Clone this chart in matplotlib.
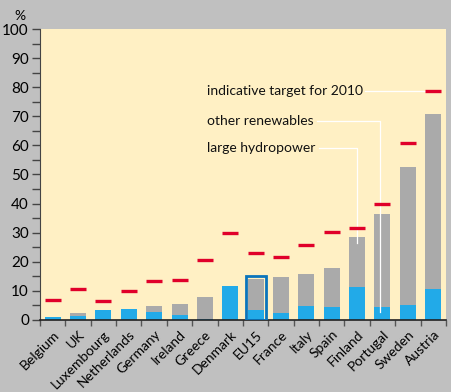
import numpy as np
import matplotlib.pyplot as plt
from matplotlib.ticker import MultipleLocator

plt.rcParams['font.family'] = ['Lato', 'DejaVu Sans']

countries = ['Belgium', 'UK', 'Luxembourg', 'Netherlands', 'Germany', 'Ireland',
             'Greece', 'Denmark', 'EU15', 'France', 'Italy', 'Spain', 'Finland',
             'Portugal', 'Sweden', 'Austria']
hydro = [1.0, 1.3, 3.3, 3.8, 2.9, 1.7, 0.5, 11.7, 3.4, 2.3, 4.7, 4.5, 11.3, 4.5, 5.2, 10.6]
total = [1.0, 2.5, 3.3, 3.8, 4.8, 5.5, 7.9, 11.7, 14.2, 14.7, 15.7, 17.9, 28.5, 36.3, 52.6, 70.7]
target = [6.9, 10.7, 6.5, 9.9, 13.3, 13.9, 20.5, 29.8, 22.9, 21.7, 25.7, 30.2, 31.7, 39.7, 60.9, 78.7]

hydro = np.array(hydro)
other = np.array(total) - hydro
x = np.arange(len(countries))
w = 0.63

bg = '#c0c0c0'
fig = plt.figure(figsize=(4.52, 3.92), dpi=100, facecolor=bg)
ax = fig.add_axes([0.0885, 0.1837, 0.898, 0.7423])
ax.set_facecolor('#fff0c4')

ax.bar(x, hydro, w, color='#22aae8', zorder=2)
ax.bar(x, other, w, bottom=hydro, color='#aaaaaa', zorder=2)
# EU15 outline
i_eu = countries.index('EU15')
ax.bar(x[i_eu], total[i_eu] + 0.8, 0.78, facecolor='none', edgecolor='#0a74bc',
       linewidth=2, zorder=3)
ax.hlines(target, x - w / 2, x + w / 2, color='#e0002a', linewidth=2.4, zorder=4)

# callouts
tx = 6.08
ia, ip, ifi = countries.index('Austria'), countries.index('Portugal'), countries.index('Finland')
fs = 10
ax.text(tx, target[ia], 'indicative target for 2010', fontsize=fs, va='center', color='#111111')
ax.plot([12.3, ia - w / 2], [target[ia], target[ia]], color='white', lw=0.9, zorder=3)
ax.text(tx, 68.5, 'other renewables', fontsize=fs, va='center', color='#111111')
ax.plot([10.42, ip - 0.1, ip - 0.1], [68.5, 68.5, 2.7], color='white', lw=0.9, zorder=3)
ax.text(tx, 59.2, 'large hydropower', fontsize=fs, va='center', color='#111111')
ax.plot([10.5, ifi, ifi], [59.2, 59.2, 26.5], color='white', lw=0.9, zorder=3)

ax.set_xlim(-0.5, len(countries) - 0.5)
ax.set_ylim(0, 100)
ax.yaxis.set_major_locator(MultipleLocator(10))
ax.yaxis.set_minor_locator(MultipleLocator(5))
ax.set_xticks(x)
ax.set_xticklabels(countries, rotation=45, ha='right', rotation_mode='anchor', fontsize=10)
ax.set_xticks(np.arange(len(countries) + 1) - 0.5, minor=True)
ax.tick_params(axis='x', which='major', length=0, pad=6)
ax.tick_params(axis='x', which='minor', length=4.5, width=1, color='#555555', direction='out')
ax.tick_params(axis='y', which='both', length=6, width=1, color='#444444', labelsize=11, pad=2)

for s in ['top', 'right']:
    ax.spines[s].set_visible(False)
ax.spines['left'].set_color('#444444')
ax.spines['bottom'].set_color('#222222')
ax.spines['bottom'].set_linewidth(1.2)

fig.text(0.031, 0.975, '%', fontsize=10, va='top', ha='left')

fig.savefig('out.png', dpi=100, facecolor=bg)
